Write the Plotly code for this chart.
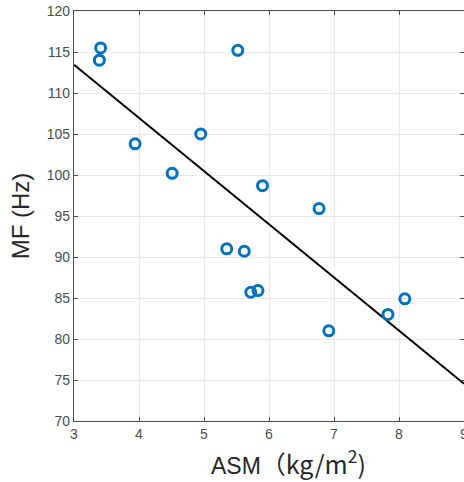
import plotly.graph_objects as go

asm = [3.41, 3.39, 5.52, 3.94, 4.95, 4.51, 5.90, 6.77, 5.35, 5.62, 5.72, 5.83, 6.92, 7.83, 8.09]
mf = [115.5, 114.0, 115.2, 103.8, 105.0, 100.2, 98.7, 95.9, 91.0, 90.7, 85.7, 85.9, 81.0, 83.0, 84.9]

fit_x = [3, 9]
fit_y = [113.45, 74.55]

x_ticks = [3, 4, 5, 6, 7, 8, 9]
y_ticks = [70, 75, 80, 85, 90, 95, 100, 105, 110, 115, 120]

fig = go.Figure()
fig.add_trace(go.Scatter(x=fit_x, y=fit_y, mode="lines",
                         line=dict(color="black", width=2), showlegend=False))
fig.add_trace(go.Scatter(x=asm, y=mf, mode="markers",
                         marker=dict(symbol="circle-open", size=10, color="#0072BD",
                                     line=dict(width=3, color="#0072BD")),
                         showlegend=False))

axis_common = dict(showgrid=True, gridcolor="#e8e8e8", gridwidth=1,
                   showline=True, linecolor="#4d4d4d", linewidth=1.2, mirror="ticks",
                   ticks="inside", ticklen=4, tickcolor="#4d4d4d",
                   tickfont=dict(family="Liberation Sans, Arial", size=14, color="#4d4d4d"),
                   ticklabeloverflow="allow", automargin=False,
                   zeroline=False)

fig.update_xaxes(range=[3, 9], tickvals=x_ticks, ticktext=[str(v) for v in x_ticks],
                 **axis_common)
fig.update_yaxes(range=[70, 120], tickvals=y_ticks, ticktext=[str(v) for v in y_ticks],
                 title=dict(text="MF (Hz)", standoff=10,
                            font=dict(family="Liberation Sans, Arial", size=24, color="#262626")),
                 **axis_common)

x_title = ("ASM<span style='font-family:Noto Sans CJK SC;font-size:25px'>"
           "\uff08kg/m<sup>2</sup>)</span>")
fig.add_annotation(text=x_title, xref="paper", yref="paper",
                   x=(209 - 74) / 390, y=-(462 - 421) / 410,
                   xanchor="left", yanchor="middle", showarrow=False,
                   font=dict(family="Liberation Sans, Arial", size=23, color="#262626"))

fig.update_layout(width=464, height=482, margin=dict(l=74, r=0, t=11, b=61),
                  plot_bgcolor="white", paper_bgcolor="white")

fig.write_html("out.html", config={"displayModeBar": False},
               post_script="document.body.style.margin='0';document.body.style.overflow='hidden';")
